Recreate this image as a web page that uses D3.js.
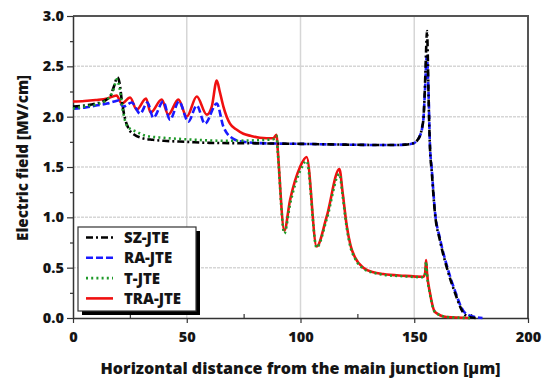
<!DOCTYPE html>
<html>
<head>
<meta charset="utf-8">
<script src="https://cdn.jsdelivr.net/npm/d3@7"></script>
<style>
  body { margin: 0; background: #fff; }
  text { font-family: "Open Sans", sans-serif; font-weight: 800; fill: #151515; }
</style>
</head>
<body>
<div id="chart"></div>
<script>
(function () {
  let width = 550,
    height = 386

  let margin = { top: 16, right: 22, bottom: 68, left: 73 }

  // series values: [x in µm, field in MV/cm]
  let szJte = [[0, 2.10], [5, 2.11], [10, 2.13], [14, 2.16], [16.5, 2.21], [18, 2.30], [19.5, 2.39], [20.5, 2.33],
    [21.5, 2.15], [23, 1.97], [24.5, 1.88], [27, 1.82], [30, 1.79], [35, 1.77], [40, 1.76], [50, 1.75],
    [60, 1.74], [80, 1.735], [100, 1.73], [120, 1.722], [140, 1.718], [146, 1.722], [149.6, 1.735],
    [151.5, 1.77], [152.5, 1.81], [153.5, 1.90], [154, 1.97], [154.7, 2.30], [155.2, 2.65], [155.6, 2.85],
    [156, 2.55], [156.2, 2.30], [156.9, 1.70], [157.7, 1.45], [159.1, 1.04], [161.3, 0.77], [164.2, 0.51],
    [167.9, 0.25], [171.6, 0.05], [174, 0.01], [177, 0]]

  let raJte = [[0, 2.08], [5, 2.09], [10, 2.11], [15, 2.13], [18, 2.15], [19.9, 2.16], [22.1, 2.10], [25.8, 2.14],
    [29.5, 2.03], [32.7, 2.14], [35.3, 1.99], [39.7, 2.15], [42.6, 1.97], [46.6, 2.15], [50.7, 1.95],
    [54.4, 2.11], [58, 1.93], [63.2, 2.13], [66.1, 1.90], [70.5, 1.78], [75, 1.75], [85, 1.735], [100, 1.73],
    [120, 1.722], [140, 1.718], [146, 1.722], [149.6, 1.735], [152.5, 1.81], [154, 1.97], [154.7, 2.25],
    [155.5, 2.60], [156.2, 2.30], [156.9, 1.72], [157.7, 1.48], [159.1, 1.06], [161.3, 0.79], [164.2, 0.53],
    [167.9, 0.27], [171.6, 0.07], [175, 0.02], [180, 0]]

  let tJte = [[0, 2.08], [5, 2.10], [10, 2.12], [15, 2.17], [17.5, 2.25], [19.3, 2.37], [20.5, 2.28], [22, 2.05],
    [24, 1.90], [28, 1.85], [32, 1.81], [40, 1.79], [50, 1.775], [67.5, 1.76], [80, 1.765], [88, 1.775],
    [89.5, 1.81], [90, 1.66], [92.9, 0.84], [95.4, 1.13], [99.8, 1.46], [102.7, 1.56], [107.1, 0.70],
    [111.5, 0.98], [117.1, 1.43], [118.5, 1.22], [120.3, 0.90], [122, 0.70], [124, 0.59], [127.6, 0.49],
    [132, 0.45], [136.4, 0.43], [145, 0.415], [154, 0.405], [154.8, 0.44], [155.2, 0.56], [155.6, 0.44],
    [156.9, 0.24], [159.1, 0.06], [164.3, 0.01], [174.5, 0]]

  let traJte = [[0, 2.15], [5, 2.155], [10, 2.165], [15, 2.18], [19.2, 2.21], [21.4, 2.13], [25.1, 2.19], [28, 2.07],
    [32.1, 2.18], [34.1, 2.04], [39, 2.17], [41.9, 2.02], [46.3, 2.17], [50, 2.00], [54.4, 2.20], [58.8, 2.02],
    [61, 2.10], [63.2, 2.36], [64.5, 2.25], [66.1, 2.10], [69, 1.93], [72, 1.87], [74.9, 1.83], [78, 1.81],
    [82.2, 1.79], [88, 1.785], [89.5, 1.82], [90, 1.67], [92.9, 0.87], [95.4, 1.17], [99.8, 1.50],
    [102.7, 1.60], [107.1, 0.71], [111.5, 1.006], [117.1, 1.48], [118.5, 1.25], [120.3, 0.92], [122, 0.72],
    [124, 0.60], [127.6, 0.50], [132, 0.455], [136.4, 0.437], [145, 0.42], [154, 0.41], [154.8, 0.45],
    [155.2, 0.576], [155.6, 0.45], [156.9, 0.25], [159.1, 0.06], [164.3, 0.01], [174.5, 0]]

  let seriesNames = ['SZ-JTE', 'RA-JTE', 'T-JTE', 'TRA-JTE']
  let xTicks = [0, 50, 100, 150, 200]
  let yTicks = [0.0, 0.5, 1.0, 1.5, 2.0, 2.5, 3.0]

  let styles = {
    'SZ-JTE': { color: '#000', dash: '7,3,2,3', data: szJte },
    'RA-JTE': { color: '#1a1aff', dash: '7,3', data: raJte },
    'T-JTE': { color: '#1f9a2a', dash: '2,3.2', data: tJte },
    'TRA-JTE': { color: '#f01010', dash: null, data: traJte }
  }

  let svg = d3.select('#chart')
    .append('svg')
    .attr('width', width)
    .attr('height', height)

  let x = d3.scaleLinear().domain([0, 200]).range([margin.left, width - margin.right])
  let y = d3.scaleLinear().domain([0, 3]).range([height - margin.bottom, margin.top])

  // gridlines
  svg.append('g')
    .selectAll('line')
    .data(yTicks.slice(1, -1))
    .enter()
    .append('line')
    .attr('x1', x(0)).attr('x2', x(200))
    .attr('y1', d => y(d)).attr('y2', d => y(d))
    .attr('stroke', '#d6d6d6')
    .attr('stroke-width', 1.5)
    .attr('stroke-dasharray', '3,1')

  svg.append('g')
    .selectAll('line')
    .data(xTicks.slice(1, -1))
    .enter()
    .append('line')
    .attr('x1', d => x(d)).attr('x2', d => x(d))
    .attr('y1', y(0)).attr('y2', y(3))
    .attr('stroke', '#d6d6d6')
    .attr('stroke-width', 1.5)

  // frame top / right
  svg.append('path')
    .attr('d', `M${x(0)},${y(3)}H${x(200)}V${y(0)}`)
    .attr('fill', 'none')
    .attr('stroke', '#555')
    .attr('stroke-width', 2)

  // axes
  svg.append('g')
    .attr('transform', `translate(0,${y(0)})`)
    .call(d3.axisBottom(x).tickValues(xTicks).tickFormat(d3.format('d')).tickSizeInner(5).tickSizeOuter(0).tickPadding(9))
  svg.append('g')
    .attr('transform', `translate(0,${y(0)})`)
    .call(d3.axisBottom(x).tickValues([25, 75, 125, 175]).tickFormat('').tickSizeInner(-4).tickSizeOuter(0))
    .select('.domain').remove()

  svg.append('g')
    .attr('transform', `translate(${x(0)},0)`)
    .call(d3.axisLeft(y).tickValues(yTicks).tickFormat(d3.format('.1f')).tickSizeInner(6).tickSizeOuter(0).tickPadding(3))
  svg.append('g')
    .attr('transform', `translate(${x(0)},0)`)
    .call(d3.axisLeft(y).tickValues([0.25, 0.75, 1.25, 1.75, 2.25, 2.75]).tickFormat('').tickSizeInner(3).tickSizeOuter(0))
    .select('.domain').remove()

  svg.selectAll('.domain').attr('stroke', '#333').attr('stroke-width', 1.5)
  svg.selectAll('.tick line').attr('stroke', '#333').attr('stroke-width', 1.2)
  svg.selectAll('.tick text')
    .style('font-family', '"Open Sans", sans-serif')
    .style('font-weight', '800')
    .style('font-size', '14.5px')
    .attr('fill', '#151515')

  // curves
  let line = d3.line()
    .x(d => x(d[0]))
    .y(d => y(d[1]))
    .curve(d3.curveMonotoneX)

  let drawOrder = ['TRA-JTE', 'RA-JTE', 'SZ-JTE', 'T-JTE']
  svg.append('g')
    .selectAll('path')
    .data(drawOrder)
    .enter()
    .append('path')
    .attr('d', d => line(styles[d].data))
    .attr('fill', 'none')
    .attr('stroke', d => styles[d].color)
    .attr('stroke-width', 2.6)
    .attr('stroke-dasharray', d => styles[d].dash)

  // legend
  let legend = svg.append('g')
  legend.append('rect')
    .attr('x', 82).attr('y', 231)
    .attr('width', 118).attr('height', 84)
    .attr('fill', '#000')
  legend.append('rect')
    .attr('x', 78).attr('y', 227)
    .attr('width', 118).attr('height', 84)
    .attr('fill', '#fff')
    .attr('stroke', '#333')
    .attr('stroke-width', 1.2)

  let rows = legend.selectAll('.row')
    .data(seriesNames)
    .enter()
    .append('g')
    .attr('class', 'row')
    .attr('transform', (d, i) => `translate(0,${237.5 + i * 20.3})`)

  rows.append('line')
    .attr('x1', 86).attr('x2', 113)
    .attr('y1', 0).attr('y2', 0)
    .attr('stroke', d => styles[d].color)
    .attr('stroke-width', 2.6)
    .attr('stroke-dasharray', d => styles[d].dash)

  rows.append('text')
    .attr('x', 124)
    .attr('y', 5.5)
    .style('font-size', '15px')
    .text(d => d)

  // axis titles, sized to the width they take in the picture
  function fitText(sel, target) {
    let w = sel.node().getComputedTextLength()
    let size = parseFloat(sel.style('font-size'))
    sel.style('font-size', (size * target / w).toFixed(2) + 'px')
  }

  let xTitle = svg.append('text')
    .attr('x', x(100))
    .attr('y', 374)
    .attr('text-anchor', 'middle')
    .style('font-size', '15.5px')
    .text('Horizontal distance from the main junction [µm]')
  fitText(xTitle, 400)

  let yTitle = svg.append('text')
    .attr('transform', `translate(28,${y(1.5) - 9}) rotate(-90)`)
    .attr('text-anchor', 'middle')
    .style('font-size', '15.5px')
    .text('Electric field [MV/cm]')
  fitText(yTitle, 166)
})()
</script>
</body>
</html>
